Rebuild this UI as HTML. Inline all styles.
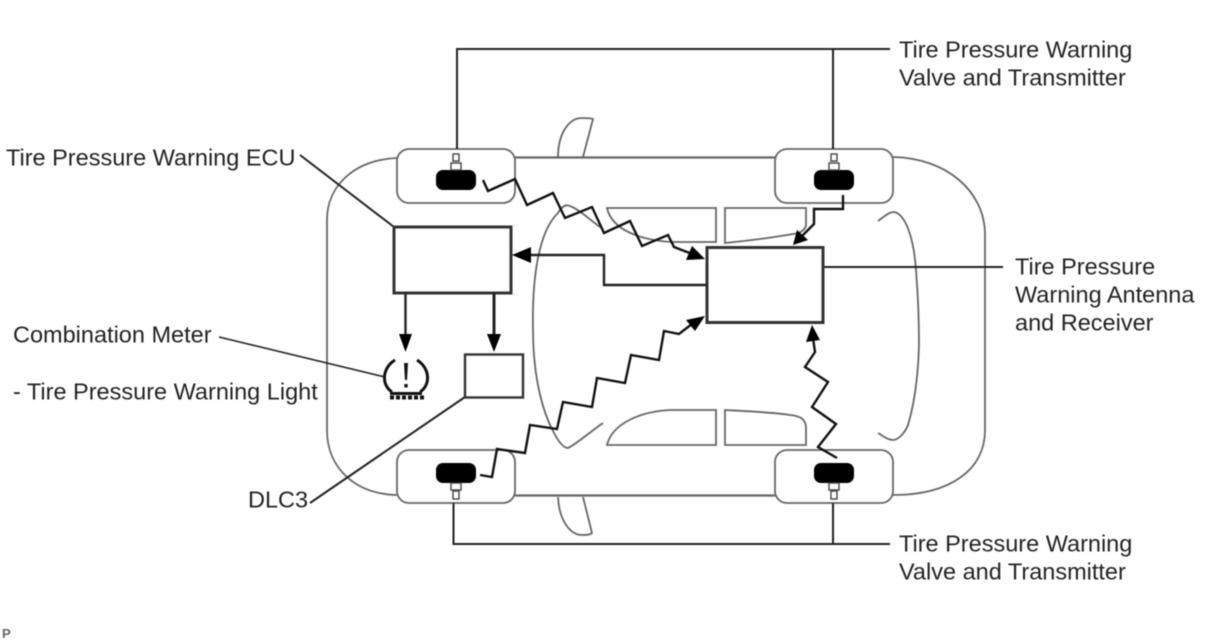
<!DOCTYPE html>
<html><head><meta charset="utf-8"><style>
html,body{margin:0;padding:0;background:#fff}
svg{display:block}
text{font-family:"Liberation Sans",sans-serif;font-size:23.500px;fill:#222}
.g{fill:none;stroke:#666;stroke-width:1.800}
.b{fill:none;stroke:#222;stroke-width:2}
.z{fill:none;stroke:#111;stroke-width:2.400;stroke-linejoin:miter}
.box{fill:#fff;stroke:#333;stroke-width:3}
</style></head><body>
<svg width="1208" height="644" viewBox="0 0 1208 644" xmlns="http://www.w3.org/2000/svg">
<g style="filter:blur(.4px)">
<!-- car body -->
<path class="g" d="M397,158 C355,160 327,185 327,220 V430 C327,468 355,494 397,495"/>
<path class="g" d="M893,157 C945,158 985,190 985,235 V430 C985,470 950,495 893,495"/>
<path class="g" style="stroke-width:2.200" d="M515,157.500 H775 M515,495.500 H775"/>
<!-- mirrors -->
<path class="g" d="M558,157 C558,135 568,118 582,118 C587,118 590,118 593,119 L583,157"/>
<path class="g" d="M558,497 C559,520 570,535 582,535 C586,535 590,535 592,533 L583,497"/>
<!-- cabin -->
<path class="g" d="M533,330 C532,280 538,232 558,213 C562,206 566,204 570,206 C580,210 590,220 600,227"/>
<path class="g" d="M533,330 C533,375 542,410 553,431 C558,441 563,448 568,448 C575,445 590,432 603,423"/>
<path class="g" d="M878,221 C885,216 889,212 894,212 C906,214 914,240 916,270 C918,295 919,320 919,345 C918,380 914,405 908,425 C904,435 897,440 893,440 C888,440 883,436 878,433"/>
<!-- windows -->
<path class="g" d="M607,208 H716 V242 H672 C640,240 612,230 607,208 Z"/>
<path class="g" d="M725,208 H806 V226 C804,231 800,233 793,234 C770,238 745,241 725,243 Z"/>
<path class="g" d="M607,445 H716 V410 H672 C640,411 612,424 607,445 Z"/>
<path class="g" d="M725,445 H806 V428 C806,419 800,416 790,415 C770,412 745,411 725,410 Z"/>
<!-- wheels -->
<rect class="g" x="397" y="149" width="118" height="54" rx="12" style="fill:#fff"/>
<rect class="g" x="775" y="149" width="118" height="54" rx="12" style="fill:#fff"/>
<rect class="g" x="397" y="450" width="118" height="53" rx="12" style="fill:#fff"/>
<rect class="g" x="775" y="450" width="118" height="53" rx="12" style="fill:#fff"/>
<!-- tires -->
<rect x="436" y="170" width="40" height="20" rx="7" fill="#000"/>
<rect x="814" y="170" width="40" height="20" rx="7" fill="#000"/>
<rect x="436" y="463" width="40" height="20" rx="7" fill="#000"/>
<rect x="814" y="463" width="40" height="20" rx="7" fill="#000"/>
<g fill="#fff" stroke="#444" stroke-width="1.400">
<rect x="451" y="163" width="10" height="7"/><rect x="453" y="154" width="6" height="7"/>
<rect x="829" y="163" width="10" height="7"/><rect x="831" y="154" width="6" height="7"/>
<rect x="451" y="483" width="10" height="7"/><rect x="453" y="491" width="6" height="8"/>
<rect x="829" y="483" width="10" height="7"/><rect x="831" y="491" width="6" height="8"/>
</g>
<!-- valve leaders -->
<path class="b" d="M457,149 V49 H890 M833,49 V149"/>
<path class="b" d="M453.500,503 V544 H890 M833,503 V544"/>
<path class="b" d="M823,267 H1003"/>
<path class="b" d="M300,155 L394,227"/>
<path class="b" style="stroke-width:1.600" d="M219,337 L385,377"/>
<path class="b" d="M465,397 L310,503"/>
<!-- boxes -->
<rect class="box" x="394" y="227" width="117" height="66"/>
<rect class="box" x="707" y="247.500" width="116" height="75"/>
<rect class="box" style="stroke-width:2.400" x="465" y="354.500" width="58" height="43"/>
<!-- solid arrows -->
<path class="b" style="stroke-width:2.400" d="M707,285 H604 V255 H526"/>
<path d="M512,255 L531,247 V263 Z" fill="#000"/>
<path class="b" style="stroke-width:2.400" d="M405.500,293 V336"/>
<path d="M405.500,352 L399,334 H412 Z" fill="#000"/>
<path class="b" style="stroke-width:3" d="M494,293 V336"/>
<path d="M494,352 L487,334 H501 Z" fill="#000"/>
<!-- zigzags -->
<polyline class="z" points="483,180 488,191 515,179 527,205 553,193 565,218 592,207 604,233 630,221 642,246 668,235 674,247 687,252 692,254"/>
<path d="M705,259 L686,260 L692,246 Z" fill="#000"/>
<polyline class="z" points="480,475 492,477 497,449 525,453 530,425 557,429 563,402 592,407 597,378 625,383 631,355 659,360 664,331 679,334 692,324"/>
<path d="M705,316 L695,331 L686,320 Z" fill="#000"/>
<polyline class="z" points="837,458 818,447 836,424 812,407 828,382 805,367 815,352 813,338"/>
<path d="M812,325 L806,342 L820,340 Z" fill="#000"/>
<polyline class="z" points="843,195 843,209 814,209 814,224 800,238"/>
<path d="M793,245 L797,230 L808,240 Z" fill="#000"/>
<!-- warning icon -->
<path fill="none" stroke="#111" stroke-width="3" d="M395,360 C382,368 381,385 392,392"/>
<path fill="none" stroke="#111" stroke-width="3" d="M417,360 C430,368 431,385 420,392"/>
<path fill="none" stroke="#111" stroke-width="3" d="M390,393.500 H422"/>
<path fill="none" stroke="#111" stroke-width="4" stroke-dasharray="4 2" d="M390,397.500 H425"/>
<path d="M404,363 H408 L407,380 H405 Z" fill="#111"/>
<rect x="404.300" y="384" width="3.400" height="3.500" fill="#111"/>
<!-- labels -->
<text x="899" y="57.500">Tire Pressure Warning</text>
<text x="899" y="85.500">Valve and Transmitter</text>
<text x="899" y="551.500">Tire Pressure Warning</text>
<text x="899" y="579.500">Valve and Transmitter</text>
<text x="1015" y="274.500">Tire Pressure</text>
<text x="1015" y="302.500">Warning Antenna</text>
<text x="1015" y="330.500">and Receiver</text>
<text x="6" y="165.500">Tire Pressure Warning ECU</text>
<text x="13" y="342.500">Combination Meter</text>
<text x="13" y="399.500">- Tire Pressure Warning Light</text>
<text x="248" y="507.500">DLC3</text>
<text x="2" y="638" style="font-size:13px;font-weight:bold;fill:#666">P</text>
</g>
</svg>
</body></html>
